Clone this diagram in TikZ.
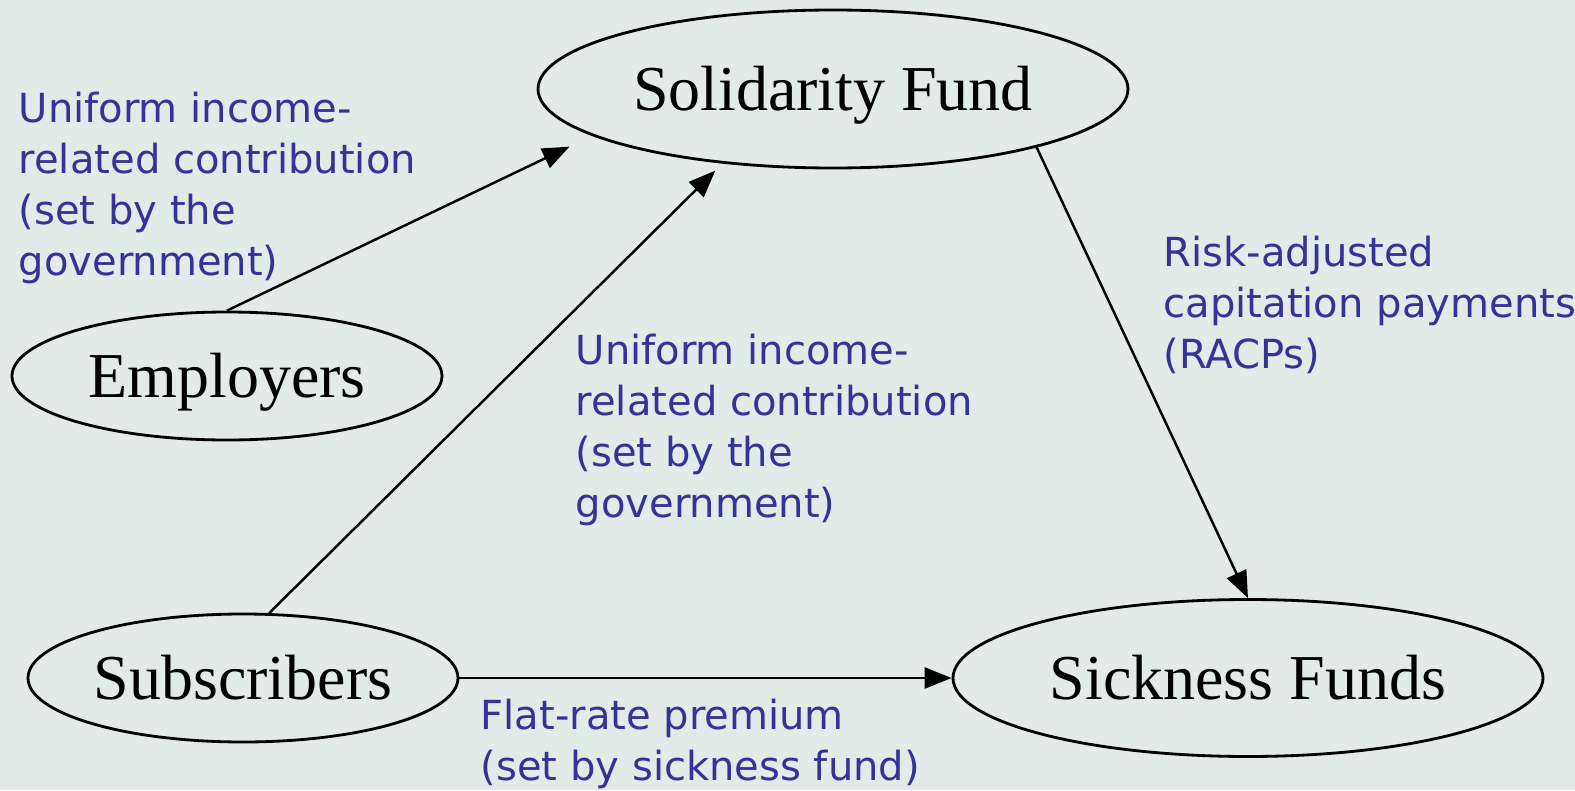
\documentclass[tikz,border=0pt]{standalone}
\usepackage{fontspec}
\setmainfont{Liberation Serif}
\setsansfont{DejaVu Sans}
\usepackage{xcolor}
\usetikzlibrary{shapes,arrows.meta,positioning}

\definecolor{bgcol}{HTML}{E2EBE7}
\definecolor{labelblue}{HTML}{333399}

\begin{document}
\begin{tikzpicture}[
    fund/.style={draw, ellipse, line width=0.8pt, inner sep=0pt, text height=12.3pt, text depth=0pt, font=\fontsize{18.2}{21}\selectfont},
    flow/.style={-{Triangle[length=0.27cm,width=0.21cm]}, line width=0.7pt},
    note/.style={anchor=north west, inner sep=0pt, align=left, text=labelblue, font=\sffamily\fontsize{11.4}{14.5}\selectfont}
]

% background and page size
\fill[bgcol] (0,0) rectangle (15.75,7.9);
\useasboundingbox (0,0) rectangle (15.75,7.9);

\node[fund, minimum width=5.9cm, minimum height=1.58cm] (sol) at (8.33,7.01) {Solidarity Fund};
\node[fund, minimum width=4.3cm, minimum height=1.28cm] (emp) at (2.27,4.14) {Employers};
\node[fund, minimum width=4.3cm, minimum height=1.28cm] (sub) at (2.43,1.12) {Subscribers};
\node[fund, minimum width=5.9cm, minimum height=1.57cm] (sick) at (12.48,1.12) {Sickness Funds};

\draw[flow, shorten >=2.5mm] (emp.north) -- (sol.191);
\draw[flow, shorten >=1mm] (sub.68) -- (sol.214);
\draw[flow] (sol.344) -- (sick.north);
\draw[flow] (sub.east) -- (sick.west);

\node[note] (empnote) at (0.18,6.99) {Uniform income-\\related contribution\\(set by the\\government)};
\node[note] (subnote) at (5.75,4.57) {Uniform income-\\related contribution\\(set by the\\government)};
\node[note] (racp) at (11.63,5.55) {Risk-adjusted\\capitation payments\\(RACPs)};
\node[note] (flat) at (4.80,0.92) {Flat-rate premium\\(set by sickness fund)};

\end{tikzpicture}
\end{document}
